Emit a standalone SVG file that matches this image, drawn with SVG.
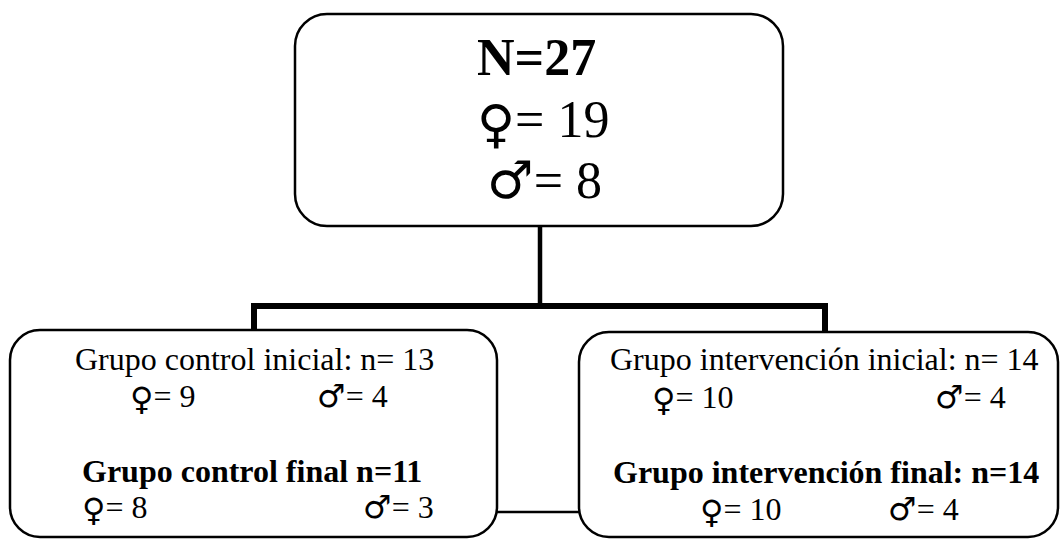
<svg xmlns="http://www.w3.org/2000/svg" width="1060" height="539" viewBox="0 0 1060 539">
<style>
.box{fill:#fff;stroke:#000;stroke-width:2.5}
.t{font-family:"Liberation Serif","Times New Roman",serif;fill:#000}
.s{font-family:"DejaVu Sans",sans-serif;font-weight:normal}
.b{font-weight:bold}
.c{stroke:#000;fill:none;stroke-linecap:butt}
</style>
<rect width="1060" height="539" fill="#fff"/>
<g id="connectors">
<line class="c" x1="540" y1="226" x2="540" y2="306" stroke-width="4.5"/>
<polyline class="c" points="254,330 254,306 825,306 825,332" stroke-width="6"/>
<line class="c" x1="497" y1="512" x2="579" y2="512" stroke-width="2.5"/>
</g>
<g id="node-total">
<rect class="box" x="295" y="14" width="488" height="212" rx="32"/>
<text class="t b" x="477" y="75" font-size="52">N=27</text>
<text class="t" x="477" y="137" font-size="52"><tspan class="s" dy="5">♀</tspan><tspan dy="-5">= 19</tspan></text>
<text class="t" x="487" y="198" font-size="52"><tspan class="s">♂</tspan>= 8</text>
</g>
<g id="node-control">
<rect class="box" x="10" y="330" width="487" height="207" rx="30"/>
<text class="t" x="75" y="370" font-size="32">Grupo control inicial: n= 13</text>
<text class="t" x="130" y="407" font-size="32"><tspan class="s" dy="3">♀</tspan><tspan dy="-3">= 9</tspan></text>
<text class="t" x="317" y="407" font-size="32"><tspan class="s">♂</tspan>= 4</text>
<text class="t b" x="82" y="482" font-size="32">Grupo control final n=11</text>
<text class="t" x="82" y="518" font-size="32"><tspan class="s" dy="3">♀</tspan><tspan dy="-3">= 8</tspan></text>
<text class="t" x="363" y="518" font-size="32"><tspan class="s">♂</tspan>= 3</text>
</g>
<g id="node-intervencion">
<rect class="box" x="579" y="332" width="479" height="205" rx="30"/>
<text class="t" x="610" y="370" font-size="32">Grupo intervención inicial: n= 14</text>
<text class="t" x="652" y="408" font-size="32"><tspan class="s" dy="3">♀</tspan><tspan dy="-3">= 10</tspan></text>
<text class="t" x="935" y="408" font-size="32"><tspan class="s">♂</tspan>= 4</text>
<text class="t b" x="613" y="483" font-size="32">Grupo intervención final: n=14</text>
<text class="t" x="700" y="520" font-size="32"><tspan class="s" dy="3">♀</tspan><tspan dy="-3">= 10</tspan></text>
<text class="t" x="888" y="520" font-size="32"><tspan class="s">♂</tspan>= 4</text>
</g>
</svg>
